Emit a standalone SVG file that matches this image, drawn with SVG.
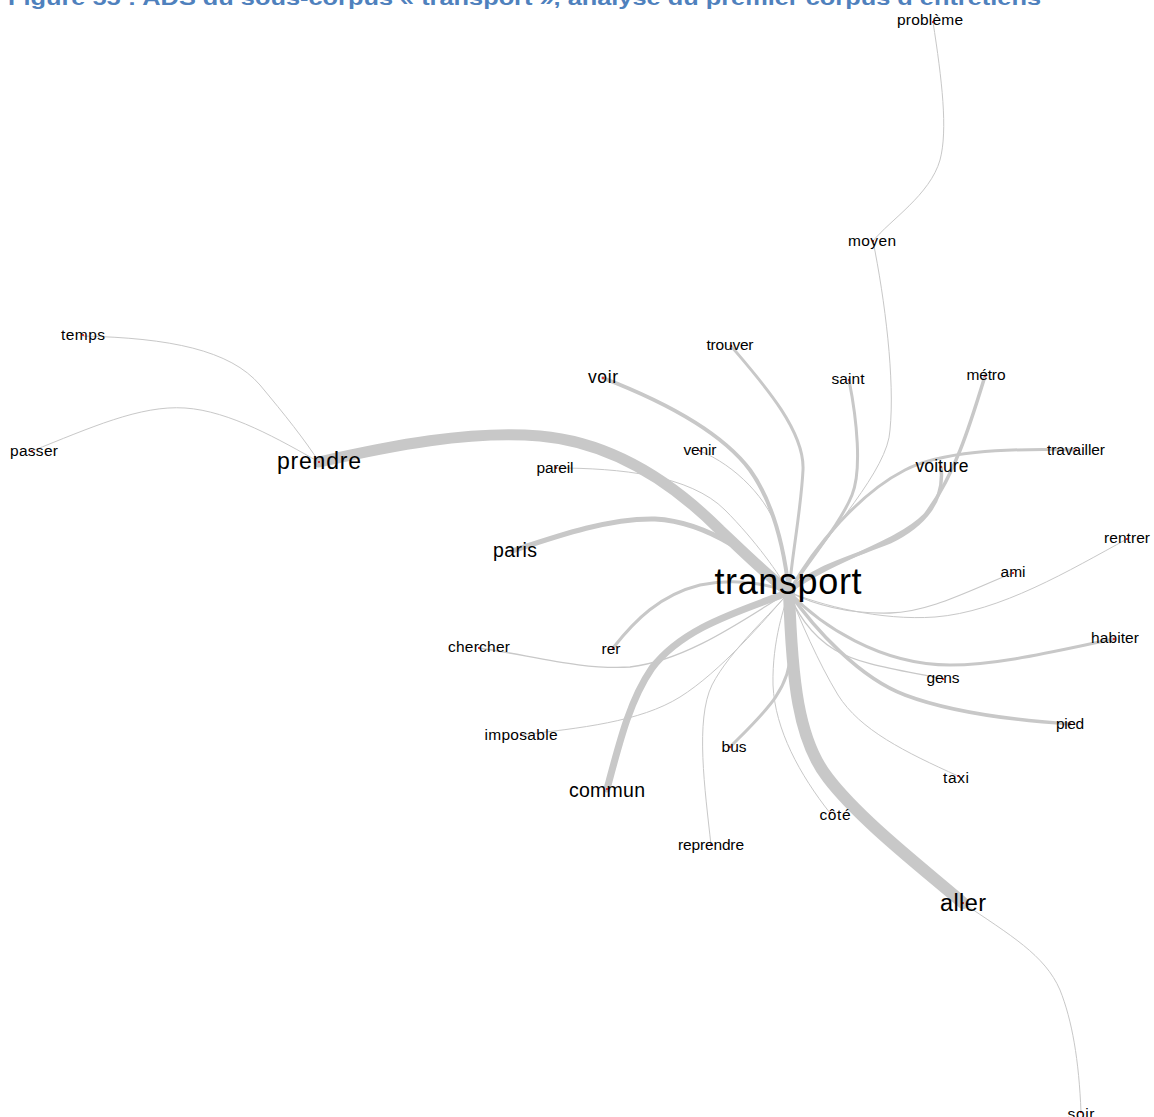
<svg xmlns="http://www.w3.org/2000/svg" width="1154" height="1117" viewBox="0 0 1154 1117">
<style>
.e{fill:none;stroke:#c8c8c8;stroke-linecap:round}
.t1{stroke-width:1}
.l{font-family:"Liberation Sans",Arial,sans-serif;fill:#000;text-anchor:middle}
.s{font-size:15.5px}
.d{fill:#e00000}
.title{font-family:"Liberation Sans",Arial,sans-serif;font-weight:bold;font-size:21px;fill:#4F81BD}
</style>
<rect width="1154" height="1117" fill="#fff"/>
<text class="title" x="8" y="5" textLength="1033" lengthAdjust="spacingAndGlyphs">Figure 55 : ADS du sous-corpus « transport », analyse du premier corpus d’entretiens</text>
<g id="connectors">
<path class="e t1" d="M83,336 C170,338 230,350 260,385 C285,415 305,440 319,462"/>
<path class="e t1" d="M32,451 C90,428 140,405 185,408 C230,411 280,440 319,462"/>
<path class="e t1" d="M933,22 C942,80 948,130 940,160 C930,195 890,220 873,241"/>
<path class="e t1" d="M873,241 C885,300 895,380 890,430 C888,470 830,530 789,592"/>
<path class="e t1" d="M700,451 C735,465 770,500 779,535 C785,560 788,580 789,592"/>
<path class="e t1" d="M556,468 C620,468 690,475 725,510 C755,540 780,575 789,592"/>
<path class="e" stroke-width="1.3" d="M479,648 C530,655 580,670 630,667 C690,660 750,615 789,592"/>
<path class="e t1" d="M521,735 C580,728 640,722 680,697 C720,672 765,620 789,592"/>
<path class="e t1" d="M711,845 C705,790 695,720 712,685 C730,650 775,610 789,592"/>
<path class="e t1" d="M830,813 C800,775 775,730 773,685 C772,640 785,605 789,592"/>
<path class="e t1" d="M963,903 C1010,935 1045,955 1060,990 C1072,1020 1079,1060 1081,1112"/>
<path class="e t1" d="M958,776 C905,752 860,730 838,695 C818,662 800,620 789,592"/>
<path class="e" stroke-width="1.3" d="M943,679 C900,670 860,665 835,650 C810,635 795,610 789,592"/>
<path class="e" stroke-width="1.3" d="M1013,573 C970,590 930,612 890,613 C850,614 815,605 789,592"/>
<path class="e t1" d="M1127,539 C1070,570 1000,612 935,617 C880,621 820,605 789,592"/>
<path class="e" stroke-width="3" d="M731,346 C760,380 805,430 803,470 C801,510 792,555 789,592"/>
<path class="e" stroke-width="4" d="M603,378 C660,400 720,430 750,470 C775,505 785,555 789,592"/>
<path class="e" stroke-width="3" d="M849,380 C857,420 862,470 852,495 C840,525 805,565 789,592"/>
<path class="e" stroke-width="3.5" d="M985,376 C970,425 955,475 925,515 C895,545 830,560 789,592"/>
<path class="e" stroke-width="3.5" d="M941,467 C945,500 925,525 890,542 C850,558 810,568 789,592"/>
<path class="e" stroke-width="3" d="M1076,450 C1000,448 940,452 905,470 C860,493 815,545 789,592"/>
<path class="e" stroke-width="5" d="M512,551 C560,535 610,518 655,519 C710,522 760,560 789,592"/>
<path class="e" stroke-width="3" d="M613,648 C635,620 660,595 700,585 C740,577 770,585 789,592"/>
<path class="e" stroke-width="3" d="M730,747 C765,712 790,690 791,650 L789,592"/>
<path class="e" stroke-width="3" d="M1114,639 C1060,650 1000,665 950,665 C880,665 820,625 789,592"/>
<path class="e" stroke-width="3.5" d="M1070,724 C1010,720 950,712 905,695 C860,678 815,630 789,592"/>
<path class="e" stroke-width="7" d="M607,789 C620,740 630,700 652,668 C685,625 745,610 789,592"/>
<path class="e" stroke-width="11" d="M319,462 C390,446 470,430 540,436 C620,443 680,490 720,530 C750,558 770,578 789,592"/>
<path class="e" stroke-width="12" d="M789,592 C792,680 798,740 828,778 C860,820 925,870 963,903"/>
</g>
<g id="n-probleme"><circle class="d" cx="933" cy="22" r="1"/><text class="l s" x="930" y="25" textLength="66">problème</text></g>
<g id="n-moyen"><circle class="d" cx="873" cy="241" r="1"/><text class="l s" x="872" y="246" textLength="48">moyen</text></g>
<g id="n-temps"><circle class="d" cx="83" cy="335" r="1"/><text class="l s" x="83" y="340" textLength="44">temps</text></g>
<g id="n-passer"><circle class="d" cx="32" cy="451" r="1"/><text class="l s" x="34" y="456" textLength="48">passer</text></g>
<g id="n-prendre"><circle class="d" cx="319" cy="462" r="1"/><text class="l" font-size="23" x="319" y="469" textLength="84">prendre</text></g>
<g id="n-trouver"><circle class="d" cx="731" cy="346" r="1"/><text class="l s" x="730" y="350" textLength="47">trouver</text></g>
<g id="n-voir"><circle class="d" cx="603" cy="378" r="1"/><text class="l" font-size="17.5" x="603" y="383" textLength="30">voir</text></g>
<g id="n-saint"><circle class="d" cx="849" cy="380" r="1"/><text class="l s" x="848" y="384" textLength="33">saint</text></g>
<g id="n-metro"><circle class="d" cx="985" cy="376" r="1"/><text class="l s" x="986" y="380" textLength="39">métro</text></g>
<g id="n-venir"><circle class="d" cx="700" cy="451" r="1"/><text class="l s" x="700" y="455" textLength="33">venir</text></g>
<g id="n-pareil"><circle class="d" cx="556" cy="468" r="1"/><text class="l s" x="555" y="473" textLength="37">pareil</text></g>
<g id="n-travailler"><circle class="d" cx="1076" cy="450" r="1"/><text class="l s" x="1076" y="455" textLength="58">travailler</text></g>
<g id="n-voiture"><circle class="d" cx="941" cy="467" r="1"/><text class="l" font-size="17.5" x="942" y="472" textLength="53">voiture</text></g>
<g id="n-paris"><circle class="d" cx="512" cy="551" r="1"/><text class="l" font-size="19.5" x="515" y="557" textLength="44">paris</text></g>
<g id="n-transport"><text class="l" font-size="36" x="788" y="594" textLength="147">transport</text></g>
<g id="n-rentrer"><circle class="d" cx="1127" cy="539" r="1"/><text class="l s" x="1127" y="543" textLength="46">rentrer</text></g>
<g id="n-ami"><circle class="d" cx="1013" cy="573" r="1"/><text class="l s" x="1013" y="577" textLength="25">ami</text></g>
<g id="n-habiter"><circle class="d" cx="1114" cy="639" r="1"/><text class="l s" x="1115" y="643" textLength="48">habiter</text></g>
<g id="n-chercher"><circle class="d" cx="479" cy="648" r="1"/><text class="l s" x="479" y="652" textLength="62">chercher</text></g>
<g id="n-rer"><circle class="d" cx="613" cy="648" r="1"/><text class="l s" x="611" y="654" textLength="19">rer</text></g>
<g id="n-gens"><circle class="d" cx="943" cy="679" r="1"/><text class="l s" x="943" y="683" textLength="33">gens</text></g>
<g id="n-imposable"><circle class="d" cx="521" cy="735" r="1"/><text class="l s" x="521" y="740" textLength="73">imposable</text></g>
<g id="n-pied"><circle class="d" cx="1070" cy="724" r="1"/><text class="l s" x="1070" y="729" textLength="28">pied</text></g>
<g id="n-bus"><circle class="d" cx="730" cy="747" r="1"/><text class="l s" x="734" y="752" textLength="25">bus</text></g>
<g id="n-taxi"><circle class="d" cx="958" cy="776" r="1"/><text class="l s" x="956" y="783" textLength="26">taxi</text></g>
<g id="n-commun"><circle class="d" cx="607" cy="789" r="1"/><text class="l" font-size="19.5" x="607" y="797" textLength="76">commun</text></g>
<g id="n-cote"><circle class="d" cx="830" cy="813" r="1"/><text class="l s" x="835" y="820" textLength="31">côté</text></g>
<g id="n-reprendre"><circle class="d" cx="711" cy="845" r="1"/><text class="l s" x="711" y="850" textLength="66">reprendre</text></g>
<g id="n-aller"><circle class="d" cx="963" cy="903" r="1"/><text class="l" font-size="23.5" x="963" y="911" textLength="46">aller</text></g>
<g id="n-soir"><circle class="d" cx="1081" cy="1112" r="1"/><text class="l s" x="1081" y="1119" textLength="27">soir</text></g>
</svg>
